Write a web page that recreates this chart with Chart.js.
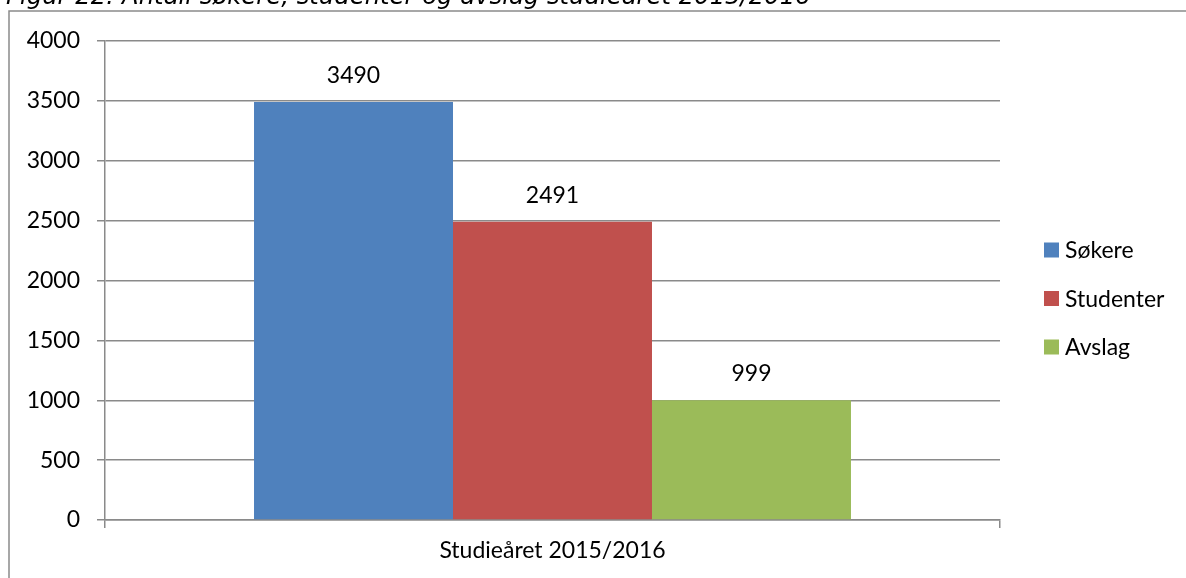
<!DOCTYPE html>
<html lang="no">
<head>
<meta charset="utf-8">
<title>Søkere, studenter og avslag</title>
<script src="https://cdn.jsdelivr.net/npm/chart.js@4.4.1/dist/chart.umd.min.js"></script>
<style>
  html, body { margin: 0; padding: 0; background: #fff; overflow: hidden; }
  #wrap { position: relative; width: 1186px; height: 578px; }
  #chart { position: absolute; left: 0; top: 0; }
  #figTitle {
    position: absolute; left: 6px; top: -16.5px;
    font: italic 24.3px/24px "DejaVu Sans", Verdana, sans-serif;
    color: #000; white-space: nowrap; z-index: 2;
  }
</style>
</head>
<body>
<div id="wrap">
  <div id="figTitle">Figur 22: Antall søkere, studenter og avslag studieåret 2015/2016</div>
  <canvas id="chart" width="1186" height="578"></canvas>
</div>
<script>
// Kategori og serier
const categories = ['Studieåret 2015/2016'];
const seriesNames = ['Søkere', 'Studenter', 'Avslag'];
const sokere = [3490];
const studenter = [2491];
const avslag = [999];
const yTicks = [0, 500, 1000, 1500, 2000, 2500, 3000, 3500, 4000];

const seriesColors = ['#4F81BD', '#C0504D', '#9BBB59'];
const lineGray = '#8a8a8a';
const FONT = 'Lato, "Open Sans", sans-serif';
const FONT_SIZE = 23;

// Ramme rundt figuren (venstre og øvre kant)
const framePlugin = {
  id: 'frame',
  beforeDraw(chart) {
    const ctx = chart.ctx;
    ctx.save();
    ctx.strokeStyle = lineGray;
    ctx.lineWidth = 1.5;
    ctx.beginPath();
    ctx.moveTo(9, chart.height);
    ctx.lineTo(9, 11);
    ctx.lineTo(chart.width, 11);
    ctx.stroke();
    ctx.restore();
  }
};

// Verdietiketter over søylene
const valueLabels = {
  id: 'valueLabels',
  afterDatasetsDraw(chart) {
    const ctx = chart.ctx;
    ctx.save();
    ctx.font = FONT_SIZE + 'px ' + FONT;
    ctx.fillStyle = '#000';
    ctx.textAlign = 'center';
    ctx.textBaseline = 'alphabetic';
    chart.data.datasets.forEach((ds, i) => {
      chart.getDatasetMeta(i).data.forEach((bar, j) => {
        ctx.fillText(String(ds.data[j]), bar.x, bar.y - 19);
      });
    });
    ctx.restore();
  }
};

// Tegnforklaring til høyre for plottet
const sideLegend = {
  id: 'sideLegend',
  afterDraw(chart) {
    const ctx = chart.ctx;
    const x0 = chart.chartArea.right + 44;
    const yStart = 250;
    const step = 48.5;
    const box = 15;
    ctx.save();
    ctx.font = FONT_SIZE + 'px ' + FONT;
    ctx.textAlign = 'left';
    ctx.textBaseline = 'alphabetic';
    chart.data.datasets.forEach((ds, i) => {
      const cy = yStart + i * step;
      ctx.fillStyle = ds.backgroundColor;
      ctx.fillRect(x0, cy - box / 2, box, box);
      ctx.fillStyle = '#000';
      ctx.fillText(ds.label, x0 + box + 6, cy + 8);
    });
    ctx.restore();
  }
};

const datasets = [sokere, studenter, avslag].map((values, i) => ({
  label: seriesNames[i],
  data: values,
  backgroundColor: seriesColors[i],
  borderWidth: 0,
  categoryPercentage: 0.667,
  barPercentage: 1.0
}));

new Chart(document.getElementById('chart'), {
  type: 'bar',
  data: { labels: categories, datasets },
  options: {
    responsive: false,
    animation: false,
    layout: { padding: { left: 0, top: 41, right: 186, bottom: 0 } },
    plugins: {
      legend: { display: false },
      title: { display: false },
      tooltip: { enabled: false }
    },
    scales: {
      x: {
        offset: true,
        grid: {
          offset: true,
          drawOnChartArea: false,
          drawTicks: true,
          tickLength: 8,
          color: lineGray,
          lineWidth: 1.5
        },
        border: { display: true, color: lineGray, width: 1.5 },
        ticks: {
          color: '#000',
          font: { family: FONT, size: FONT_SIZE },
          padding: 9,
          maxRotation: 0
        },
        afterFit(scale) {
          scale.height = 58;
          scale.paddingLeft = 0;
          scale.paddingRight = 0;
        }
      },
      y: {
        min: 0,
        max: 4000,
        afterBuildTicks(scale) {
          scale.ticks = yTicks.map(v => ({ value: v }));
        },
        grid: {
          color: lineGray,
          lineWidth: 1.5,
          drawTicks: true,
          tickLength: 8
        },
        border: { display: true, color: lineGray, width: 1.5 },
        ticks: {
          color: '#000',
          font: { family: FONT, size: FONT_SIZE },
          padding: 17,
          callback: (value) => String(value)
        },
        afterFit(scale) {
          scale.width = 105;
          scale.paddingTop = 0;
          scale.paddingBottom = 0;
        }
      }
    }
  },
  plugins: [framePlugin, valueLabels, sideLegend]
});
</script>
</body>
</html>
